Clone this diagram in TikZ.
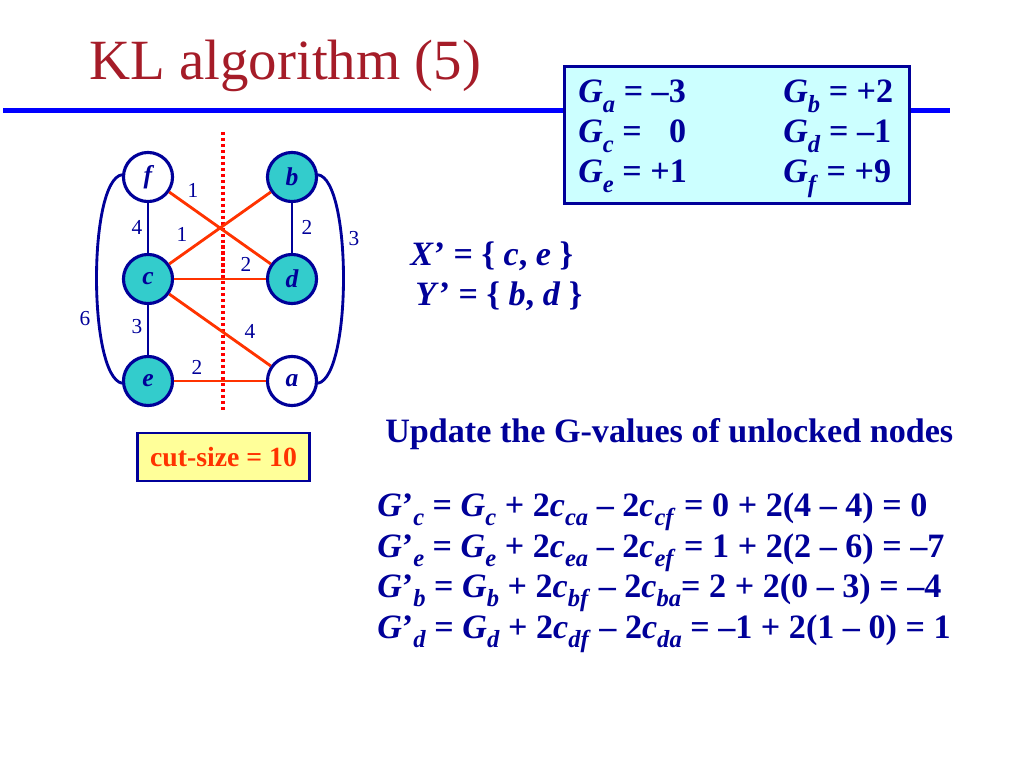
\documentclass[tikz,border=0pt]{standalone}
\usepackage{fontspec}
\setmainfont{Liberation Serif}
\usepackage{graphicx}
\definecolor{navy}{RGB}{0,0,153}
\definecolor{titlered}{RGB}{165,28,40}
\definecolor{edgered}{RGB}{255,51,0}
\definecolor{tealfill}{RGB}{51,204,204}
\definecolor{lcyan}{RGB}{204,255,255}
\definecolor{lyellow}{RGB}{255,255,153}
\definecolor{lineblue}{RGB}{0,0,255}
\definecolor{cutred}{RGB}{255,0,0}
\newcommand\sbs[1]{\raisebox{-0.28em}{\scalebox{0.72}{\textit{#1}}}}
\tikzset{
  vtx/.style={circle, draw=navy, line width=2.2pt, minimum size=34.5pt, inner sep=0pt,
    font=\fontsize{18}{20}\selectfont\bfseries\itshape, text=navy},
  locked/.style={vtx, fill=tealfill},
  free/.style={vtx, fill=white},
  inedge/.style={draw=navy, line width=2pt},
  cutedge/.style={draw=edgered, line width=2pt},
  wlabel/.style={text=navy, inner sep=0pt, font=\fontsize{15}{17}\selectfont},
  txt/.style={anchor=base west, inner sep=0pt, text=navy, font=\fontsize{24}{28}\selectfont\bfseries},
}
\begin{document}
\begin{tikzpicture}[x=0.703125pt, y=-0.703125pt]
\useasboundingbox (0,0) rectangle (1024,768);
% title and rule
\node[anchor=base west, inner sep=0pt, text=titlered, font=\fontsize{40}{44}\selectfont] (title) at (89,80) {KL algorithm (5)};
\coordinate (ruleL) at (3,110.5);
\coordinate (ruleR) at (950,110.5);
\draw[lineblue, line width=3.5pt] (ruleL) -- (ruleR);
% G box
\node[draw=navy, line width=2pt, fill=lcyan, minimum width=243pt, minimum height=96pt, inner sep=0pt] (gbox) at (737,135) {};
\node[txt] (ga) at (578,103) {\textit{G}\sbs{a} = –3};
\node[txt] (gb) at (783,103) {\textit{G}\sbs{b} = +2};
\node[txt] (gc) at (578,143) {\textit{G}\sbs{c} = \hspace{0.55em}0};
\node[txt] (gd) at (783,143) {\textit{G}\sbs{d} = –1};
\node[txt] (ge) at (578,183) {\textit{G}\sbs{e} = +1};
\node[txt] (gf) at (783,183) {\textit{G}\sbs{f} = +9};
% cut line
\coordinate (cutT) at (223,132);
\coordinate (cutB) at (223,412);
\draw[cutred, line width=2.2pt, dash pattern=on 2.2pt off 2pt] (cutT) -- (cutB);
% vertices
\node[free]   (f) at (148,177) {f};
\node[locked] (b) at (292,177) {b};
\node[locked] (c) at (148,279) {c};
\node[locked] (d) at (292,279) {d};
\node[locked] (e) at (148,381) {e};
\node[free]   (a) at (292,381) {a};
% edges
\draw[inedge] (f) -- (c);
\draw[inedge] (c) -- (e);
\draw[inedge] (b) -- (d);
\draw[inedge] (f.175) .. controls (88,180) and (88,376) .. (e.185);
\draw[inedge] (b.5) .. controls (352,180) and (352,376) .. (a.-5);
\draw[cutedge] (f) -- (d);
\draw[cutedge] (c) -- (b);
\draw[cutedge] (c) -- (d);
\draw[cutedge] (c) -- (a);
\draw[cutedge] (e) -- (a);
% weights
\node[wlabel] (w1) at (193,190) {1};
\node[wlabel] (w2) at (137,227) {4};
\node[wlabel] (w3) at (182,234) {1};
\node[wlabel] (w4) at (307,227) {2};
\node[wlabel] (w5) at (354,239) {3};
\node[wlabel] (w6) at (246,264) {2};
\node[wlabel] (w7) at (85,319) {6};
\node[wlabel] (w8) at (137,327) {3};
\node[wlabel] (w9) at (250,331) {4};
\node[wlabel] (w10) at (197,367) {2};
% cut size
\node[draw=navy, line width=1.6pt, fill=lyellow, minimum width=121pt, minimum height=33.5pt, inner sep=0pt,
  text=edgered, font=\fontsize{19.5}{22}\selectfont\bfseries] (cut) at (223.5,457) {cut-size = 10};
% sets
\node[txt] (xs) at (410,266) {\textit{X}’ = \{ \textit{c}, \textit{e} \}};
\node[txt] (ys) at (415,306) {\textit{Y}’ = \{ \textit{b}, \textit{d} \}};
\node[txt] (upd) at (385,442) {Update the G-values of unlocked nodes};
% equations
\node[txt] (e1) at (377,516) {\textit{G}’\sbs{c} = \textit{G}\sbs{c} + 2\textit{c}\sbs{ca} – 2\textit{c}\sbs{cf} = 0 + 2(4 – 4) = 0};
\node[txt] (e2) at (377,557) {\textit{G}’\sbs{e} = \textit{G}\sbs{e} + 2\textit{c}\sbs{ea} – 2\textit{c}\sbs{ef} = 1 + 2(2 – 6) = –7};
\node[txt] (e3) at (377,597) {\textit{G}’\sbs{b} = \textit{G}\sbs{b} + 2\textit{c}\sbs{bf} – 2\textit{c}\sbs{ba}= 2 + 2(0 – 3) = –4};
\node[txt] (e4) at (377,638) {\textit{G}’\sbs{d} = \textit{G}\sbs{d} + 2\textit{c}\sbs{df} – 2\textit{c}\sbs{da} = –1 + 2(1 – 0) = 1};
\end{tikzpicture}
\end{document}
